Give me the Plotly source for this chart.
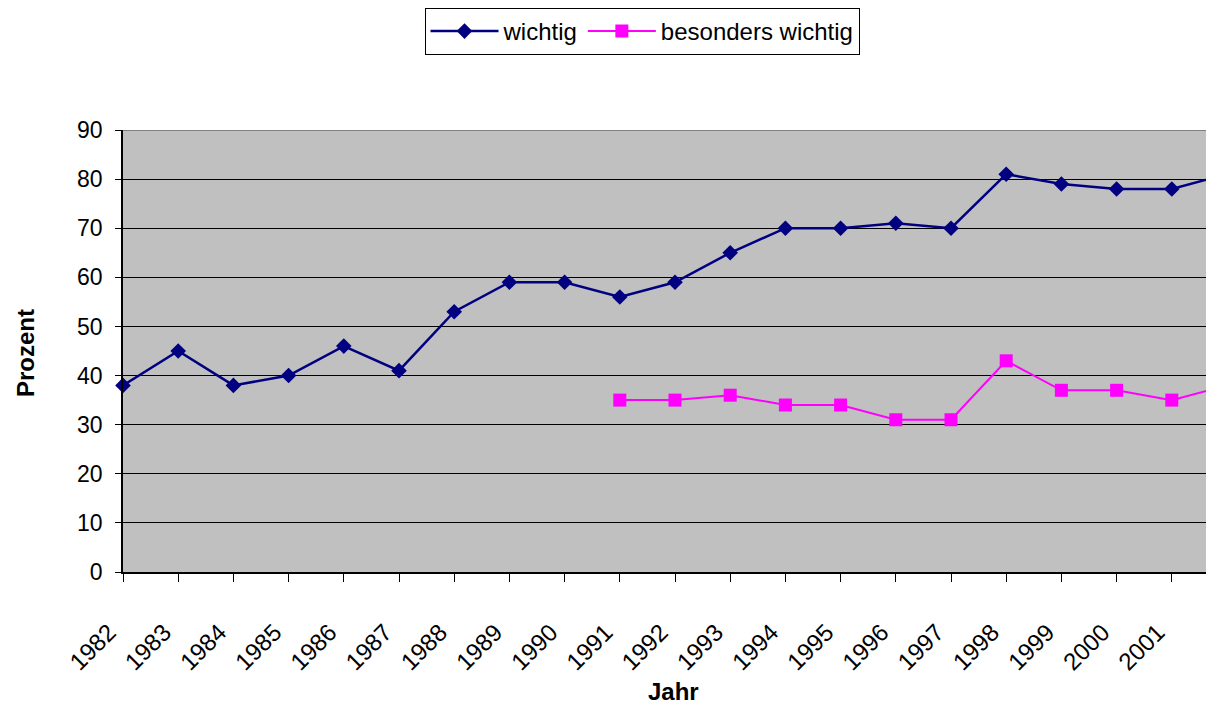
import plotly.graph_objects as go

years = list(range(1982, 2003))
wichtig = [38, 45, 38, 40, 46, 41, 53, 59, 59, 56, 59, 65, 70, 70, 71, 70, 81, 79, 78, 78, 81]
besonders_years = list(range(1991, 2003))
besonders_wichtig = [35, 35, 36, 34, 34, 31, 31, 43, 37, 37, 35, 38]
y_ticks = [0, 10, 20, 30, 40, 50, 60, 70, 80, 90]

FONT = "Liberation Sans, Arial, sans-serif"
OFF = 8          # page body margin in the browser
W, H = 1214 - OFF, 705 - OFF
L, T = 123 - OFF, 130 - OFF
B = H - (572 - OFF)
PW = W - L       # plot width in px
PH = H - T - B   # plot height in px

def px_x(page_x):
    return (page_x - 123) / PW

def px_y(page_y):
    return (572 - page_y) / PH

fig = go.Figure()
fig.add_trace(go.Scatter(
    x=years, y=wichtig, name="wichtig", mode="lines+markers",
    line=dict(color="#000080", width=2.5),
    marker=dict(symbol="diamond", size=12, color="#000080"),
    cliponaxis=False,
))
fig.add_trace(go.Scatter(
    x=besonders_years, y=besonders_wichtig, name="besonders wichtig", mode="lines+markers",
    line=dict(color="#FF00FF", width=2),
    marker=dict(symbol="square", size=13, color="#FF00FF"),
    cliponaxis=False,
))

fig.update_layout(
    width=W, height=H,
    margin=dict(l=L, r=0, t=T, b=B, autoexpand=False),
    paper_bgcolor="white",
    plot_bgcolor="#C0C0C0",
    font=dict(family=FONT, size=23, color="black"),
    showlegend=True,
    legend=dict(
        orientation="h", x=px_x(642), xanchor="center",
        y=1 + T / PH, yanchor="top",
        bgcolor="white", bordercolor="black", borderwidth=1,
        font=dict(family=FONT, size=24), itemwidth=68,
        tracegroupgap=0,
    ),
    xaxis=dict(
        range=[1982, 1982 + PW / 55.2],
        tickmode="array", tickvals=years, ticktext=[str(y) for y in years],
        tickangle=-45, ticks="outside", ticklen=8, tickcolor="black",
        showgrid=False, showline=True, linecolor="black", linewidth=1.5,
        zeroline=False, tickfont=dict(size=24), automargin=False,
        ticklabelstandoff=27, ticklabelshift=-14,
    ),
    yaxis=dict(
        range=[0, 90], tickmode="array", tickvals=y_ticks,
        ticks="outside", ticklen=6, tickcolor="black",
        showgrid=True, gridcolor="black", gridwidth=1,
        showline=True, linecolor="black", linewidth=1.5,
        zeroline=False, tickfont=dict(size=23), automargin=False,
        ticklabelstandoff=8,
    ),
    shapes=[dict(type="line", xref="paper", yref="y", x0=0, x1=1, y0=90, y1=90,
                 line=dict(color="#808080", width=2), layer="above")],
    annotations=[
        dict(text="<b>Prozent</b>", xref="paper", yref="paper",
             x=px_x(25), y=px_y(353), textangle=-90,
             showarrow=False, font=dict(size=24), xanchor="center", yanchor="middle"),
        dict(text="<b>Jahr</b>", xref="paper", yref="paper",
             x=px_x(673), y=px_y(691),
             showarrow=False, font=dict(size=24), xanchor="center", yanchor="middle"),
    ],
)

fig.write_html("out.html")
